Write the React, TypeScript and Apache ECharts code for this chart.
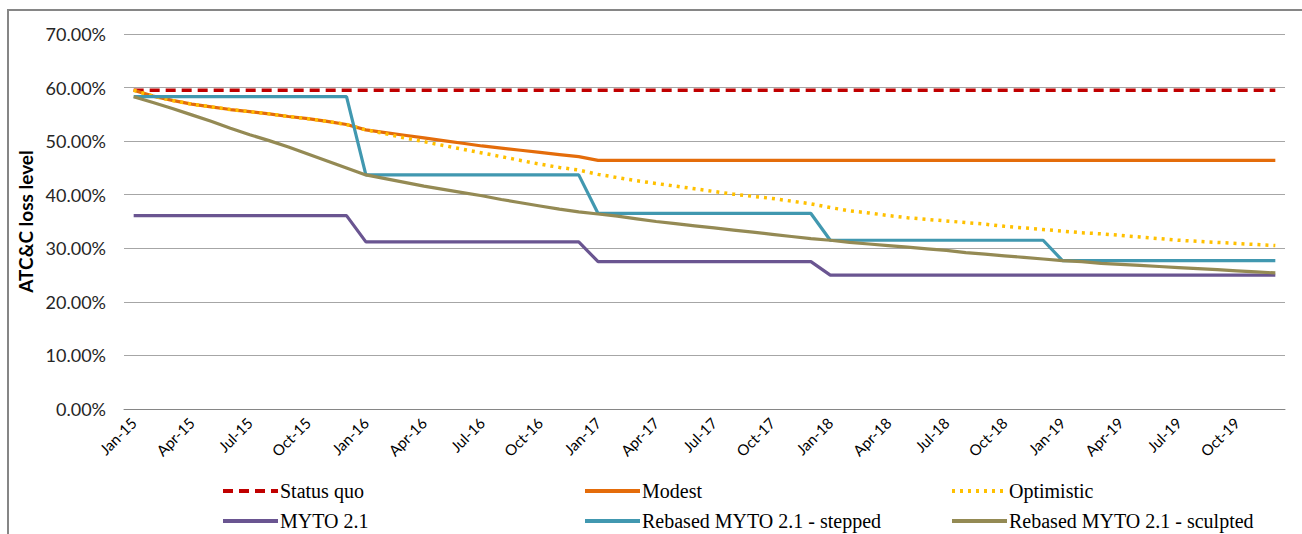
import React, { useEffect, useRef } from "react";
import * as echarts from "echarts";

const months = [
  "Jan-15","Feb-15","Mar-15","Apr-15","May-15","Jun-15","Jul-15","Aug-15","Sep-15","Oct-15","Nov-15","Dec-15",
  "Jan-16","Feb-16","Mar-16","Apr-16","May-16","Jun-16","Jul-16","Aug-16","Sep-16","Oct-16","Nov-16","Dec-16",
  "Jan-17","Feb-17","Mar-17","Apr-17","May-17","Jun-17","Jul-17","Aug-17","Sep-17","Oct-17","Nov-17","Dec-17",
  "Jan-18","Feb-18","Mar-18","Apr-18","May-18","Jun-18","Jul-18","Aug-18","Sep-18","Oct-18","Nov-18","Dec-18",
  "Jan-19","Feb-19","Mar-19","Apr-19","May-19","Jun-19","Jul-19","Aug-19","Sep-19","Oct-19","Nov-19","Dec-19",
];

const statusQuo = [
  0.595,0.595,0.595,0.595,0.595,0.595,0.595,0.595,0.595,0.595,0.595,0.595,
  0.595,0.595,0.595,0.595,0.595,0.595,0.595,0.595,0.595,0.595,0.595,0.595,
  0.595,0.595,0.595,0.595,0.595,0.595,0.595,0.595,0.595,0.595,0.595,0.595,
  0.595,0.595,0.595,0.595,0.595,0.595,0.595,0.595,0.595,0.595,0.595,0.595,
  0.595,0.595,0.595,0.595,0.595,0.595,0.595,0.595,0.595,0.595,0.595,0.595,
];

const modest = [
  0.595,0.584,0.576,0.569,0.564,0.559,0.555,0.551,0.546,0.542,0.537,0.531,
  0.521,0.516,0.511,0.506,0.501,0.496,0.491,0.487,0.483,0.479,0.475,0.471,
  0.464,0.464,0.464,0.464,0.464,0.464,0.464,0.464,0.464,0.464,0.464,0.464,
  0.464,0.464,0.464,0.464,0.464,0.464,0.464,0.464,0.464,0.464,0.464,0.464,
  0.464,0.464,0.464,0.464,0.464,0.464,0.464,0.464,0.464,0.464,0.464,0.464,
];

const optimistic = [
  0.595,0.584,0.576,0.569,0.564,0.559,0.555,0.551,0.546,0.542,0.537,0.531,
  0.521,0.514,0.506,0.499,0.492,0.485,0.478,0.471,0.464,0.457,0.451,0.446,
  0.438,0.432,0.426,0.421,0.416,0.411,0.406,0.401,0.397,0.393,0.388,0.383,
  0.376,0.370,0.366,0.361,0.357,0.354,0.351,0.348,0.345,0.341,0.338,0.335,
  0.332,0.329,0.327,0.324,0.321,0.318,0.315,0.313,0.311,0.309,0.307,0.305,
];

const myto = [
  0.361,0.361,0.361,0.361,0.361,0.361,0.361,0.361,0.361,0.361,0.361,0.361,
  0.312,0.312,0.312,0.312,0.312,0.312,0.312,0.312,0.312,0.312,0.312,0.312,
  0.275,0.275,0.275,0.275,0.275,0.275,0.275,0.275,0.275,0.275,0.275,0.275,
  0.250,0.250,0.250,0.250,0.250,0.250,0.250,0.250,0.250,0.250,0.250,0.250,
  0.250,0.250,0.250,0.250,0.250,0.250,0.250,0.250,0.250,0.250,0.250,0.250,
];

const stepped = [
  0.583,0.583,0.583,0.583,0.583,0.583,0.583,0.583,0.583,0.583,0.583,0.583,
  0.437,0.437,0.437,0.437,0.437,0.437,0.437,0.437,0.437,0.437,0.437,0.437,
  0.365,0.365,0.365,0.365,0.365,0.365,0.365,0.365,0.365,0.365,0.365,0.365,
  0.315,0.315,0.315,0.315,0.315,0.315,0.315,0.315,0.315,0.315,0.315,0.315,
  0.277,0.277,0.277,0.277,0.277,0.277,0.277,0.277,0.277,0.277,0.277,0.277,
];

const sculpted = [
  0.583,0.572,0.561,0.549,0.537,0.524,0.512,0.501,0.489,0.476,0.463,0.450,
  0.437,0.430,0.423,0.416,0.410,0.404,0.398,0.391,0.385,0.379,0.373,0.368,
  0.364,0.360,0.355,0.350,0.346,0.342,0.338,0.334,0.330,0.326,0.322,0.318,
  0.315,0.311,0.308,0.305,0.302,0.299,0.296,0.292,0.289,0.286,0.283,0.280,
  0.277,0.275,0.272,0.270,0.268,0.266,0.264,0.262,0.260,0.258,0.256,0.254,
];

const seriesNames = [
  "Status quo",
  "Modest",
  "Optimistic",
  "MYTO 2.1",
  "Rebased MYTO 2.1 - stepped",
  "Rebased MYTO 2.1 - sculpted",
];

const FONT = "Lato";

export default function App() {
  const ref = useRef<HTMLDivElement>(null);
  useEffect(() => {
    document.body.style.margin = "0";
    const chart = echarts.init(ref.current!, null, { renderer: "svg" });
    const mk = (name: string, data: number[], color: string, type: any, width = 3.2) => ({
      name,
      type: "line",
      data,
      symbol: "none",
      showSymbol: false,
      lineStyle: { color, width, type, cap: "butt" },
      itemStyle: { color },
    });
    const legendPos = [
      { left: 221, top: 481 },
      { left: 583, top: 481 },
      { left: 950, top: 481 },
      { left: 221, top: 511 },
      { left: 583, top: 511 },
      { left: 950, top: 511 },
    ];
    chart.setOption({
      animation: false,
      backgroundColor: "#ffffff",
      textStyle: { fontFamily: FONT },
      grid: { left: 124, right: 17, top: 34, bottom: 125, containLabel: false },
      graphic: [
        {
          type: "rect",
          shape: { x: 8, y: 10, width: 1320, height: 560 },
          style: { fill: "none", stroke: "#868686", lineWidth: 2 },
          silent: true,
        },
      ],
      legend: seriesNames.map((n, i) => ({
        data: [n],
        left: legendPos[i].left,
        top: legendPos[i].top,
        padding: 0,
        itemWidth: 55,
        itemHeight: 18,
        itemGap: 4,
        itemStyle: { opacity: 0 },
        lineStyle: { width: 4 },
        textStyle: { fontFamily: "Liberation Sans Narrow", fontSize: 20, color: "#000000", padding: [0, 0, 0, -3] },
        selectedMode: false,
      })),
      xAxis: {
        type: "category",
        data: months,
        boundaryGap: true,
        axisLine: { lineStyle: { color: "#868686", width: 1 } },
        axisTick: { interval: 2, length: 6, lineStyle: { color: "#868686" } },
        axisLabel: {
          interval: 2,
          rotate: 45,
          fontSize: 15,
          color: "#000000",
          margin: 11,
          fontFamily: FONT,
        },
        splitLine: { show: false },
      },
      yAxis: {
        type: "value",
        min: 0,
        max: 0.7,
        interval: 0.1,
        name: "ATC&C loss level",
        nameLocation: "middle",
        nameGap: 88,
        nameTextStyle: { fontSize: 19, fontWeight: "bold", color: "#000000", fontFamily: FONT },
        axisLine: { show: false },
        axisTick: { show: false },
        axisLabel: {
          formatter: (v: number) => (v * 100).toFixed(2) + "%",
          fontSize: 18,
          color: "#262626",
          margin: 18,
          fontFamily: FONT,
        },
        splitLine: { lineStyle: { color: "#A6A6A6", width: 1 } },
      },
      series: [
        mk(seriesNames[0], statusQuo, "#C00000", [10, 6], 3.5),
        mk(seriesNames[1], modest, "#E46C0A", "solid"),
        mk(seriesNames[2], optimistic, "#FFC000", [3, 5], 3.5),
        mk(seriesNames[3], myto, "#6A5591", "solid"),
        mk(seriesNames[4], stepped, "#4198B0", "solid"),
        mk(seriesNames[5], sculpted, "#948A54", "solid"),
      ],
    });
    return () => chart.dispose();
  }, []);
  return <div ref={ref} style={{ width: 1302, height: 534 }} />;
}
